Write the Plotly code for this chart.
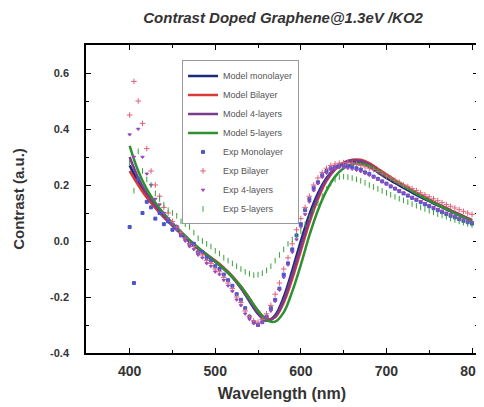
import plotly.graph_objects as go

# ---------------- data ----------------
MODEL_WL = list(range(400, 801, 10))
model_mono = [0.27, 0.21, 0.16, 0.12, 0.085, 0.055, 0.025, -0.003, -0.028, -0.05,
              -0.073, -0.098, -0.128, -0.168, -0.215, -0.26, -0.285, -0.265, -0.2, -0.105,
              0.0, 0.095, 0.17, 0.225, 0.26, 0.278, 0.284, 0.28, 0.265, 0.245,
              0.225, 0.207, 0.19, 0.173, 0.157, 0.142, 0.127, 0.113, 0.099, 0.086, 0.072]
model_bi = [0.25, 0.2, 0.155, 0.118, 0.085, 0.056, 0.028, 0.0, -0.025, -0.048,
            -0.07, -0.095, -0.125, -0.162, -0.205, -0.25, -0.278, -0.272, -0.22, -0.135,
            -0.035, 0.065, 0.15, 0.215, 0.255, 0.278, 0.29, 0.29, 0.278, 0.258,
            0.238, 0.218, 0.2, 0.182, 0.165, 0.149, 0.133, 0.118, 0.103, 0.089, 0.075]
model_4 = [0.30, 0.225, 0.17, 0.127, 0.09, 0.058, 0.028, 0.0, -0.026, -0.05,
           -0.074, -0.1, -0.13, -0.168, -0.212, -0.258, -0.285, -0.27, -0.212, -0.12,
           -0.02, 0.078, 0.16, 0.22, 0.258, 0.28, 0.288, 0.286, 0.273, 0.253,
           0.233, 0.214, 0.196, 0.179, 0.162, 0.146, 0.131, 0.116, 0.101, 0.087, 0.073]
model_5 = [0.34, 0.25, 0.185, 0.137, 0.098, 0.064, 0.033, 0.004, -0.023, -0.048,
           -0.073, -0.099, -0.128, -0.163, -0.205, -0.248, -0.282, -0.288, -0.255, -0.18,
           -0.085, 0.02, 0.11, 0.18, 0.23, 0.26, 0.274, 0.276, 0.268, 0.252,
           0.233, 0.214, 0.196, 0.178, 0.161, 0.145, 0.129, 0.114, 0.099, 0.085, 0.07]

EXP_WL = list(range(400, 801, 5))
exp_mono = [0.05, -0.15, 0.22, 0.1, 0.14, 0.12, 0.08, 0.1, 0.06, 0.07,
            0.04, 0.05, 0.02, 0.01, -0.01, -0.01, -0.04, -0.04, -0.06, -0.07,
            -0.09, -0.1, -0.12, -0.14, -0.16, -0.19, -0.21, -0.24, -0.27, -0.29,
            -0.3, -0.29, -0.27, -0.24, -0.21, -0.17, -0.12, -0.08, -0.03, 0.02,
            0.06, 0.11, 0.15, 0.19, 0.21, 0.235, 0.25, 0.26, 0.265, 0.27,
            0.27, 0.268, 0.265, 0.26, 0.255, 0.245, 0.24, 0.23, 0.222, 0.213,
            0.205, 0.195, 0.187, 0.178, 0.17, 0.162, 0.154, 0.147, 0.139, 0.131,
            0.124, 0.117, 0.11, 0.103, 0.096, 0.09, 0.084, 0.078, 0.072, 0.067, 0.062]
exp_bi = [0.45, 0.57, 0.5, 0.42, 0.33, 0.25, 0.2, 0.16, 0.12, 0.1,
          0.07, 0.05, 0.03, 0.01, -0.01, -0.02, -0.04, -0.05, -0.07, -0.08,
          -0.1, -0.11, -0.13, -0.15, -0.17, -0.2, -0.22, -0.25, -0.27, -0.285,
          -0.29, -0.28, -0.26, -0.23, -0.19, -0.15, -0.1, -0.06, -0.01, 0.04,
          0.08, 0.12, 0.16, 0.2, 0.225, 0.245, 0.26, 0.27, 0.275, 0.278,
          0.28, 0.28, 0.278, 0.275, 0.27, 0.265, 0.26, 0.255, 0.248, 0.24,
          0.232, 0.225, 0.217, 0.21, 0.2, 0.195, 0.187, 0.18, 0.172, 0.165,
          0.158, 0.151, 0.144, 0.137, 0.13, 0.124, 0.118, 0.112, 0.106, 0.1, 0.095]
exp_4 = [0.38, 0.3, 0.4, 0.3, 0.24, 0.2, 0.15, 0.13, 0.1, 0.08,
         0.06, 0.04, 0.02, 0.0, -0.02, -0.03, -0.05, -0.06, -0.08, -0.09,
         -0.11, -0.12, -0.14, -0.16, -0.18, -0.21, -0.23, -0.26, -0.28, -0.295,
         -0.3, -0.29, -0.275, -0.25, -0.215, -0.175, -0.13, -0.085, -0.04, 0.005,
         0.05, 0.095, 0.14, 0.18, 0.205, 0.228, 0.243, 0.253, 0.258, 0.262,
         0.262, 0.26, 0.257, 0.253, 0.248, 0.242, 0.235, 0.228, 0.22, 0.212,
         0.204, 0.196, 0.188, 0.18, 0.172, 0.164, 0.157, 0.15, 0.142, 0.135,
         0.128, 0.121, 0.114, 0.108, 0.101, 0.095, 0.089, 0.083, 0.077, 0.072, 0.067]
exp_5 = [0.28, 0.18, 0.32, 0.25, 0.22, 0.2, 0.17, 0.15, 0.13, 0.11,
         0.1, 0.09, 0.07, 0.06, 0.05, 0.03, 0.01, 0.0, -0.01, -0.02,
         -0.035, -0.045, -0.06, -0.07, -0.08, -0.09, -0.1, -0.11, -0.117, -0.122,
         -0.12, -0.115, -0.105, -0.09, -0.07, -0.05, -0.03, -0.01, 0.005, 0.02,
         0.035, 0.06, 0.085, 0.11, 0.135, 0.16, 0.185, 0.205, 0.22, 0.228,
         0.23, 0.228, 0.225, 0.22, 0.215, 0.208, 0.2, 0.193, 0.186, 0.179,
         0.172, 0.165, 0.158, 0.151, 0.145, 0.139, 0.132, 0.126, 0.12, 0.114,
         0.108, 0.102, 0.096, 0.091, 0.086, 0.08, 0.075, 0.07, 0.066, 0.061, 0.057]

X_TICKS = [400, 500, 600, 700, 800]
Y_TICKS = [-0.4, -0.2, 0.0, 0.2, 0.4, 0.6]
Y_TICK_TEXT = ["-0.4", "-0.2", "0.0", "0.2", "0.4", "0.6"]

FONT = "Arial, Liberation Sans, sans-serif"

fig = go.Figure()

exp_styles = [
    ("Exp Monolayer", exp_mono, "#4a55c8", "square", 3),
    ("Exp Bilayer", exp_bi, "#e0607a", "cross-thin-open", 4),
    ("Exp 4-layers", exp_4, "#9a48c0", "triangle-down", 3),
    ("Exp 5-layers", exp_5, "#38a038", "line-ns-open", 4),
]
model_styles = [
    ("Model monolayer", model_mono, "#1c2a78"),
    ("Model Bilayer", model_bi, "#d83838"),
    ("Model 4-layers", model_4, "#7a3c8c"),
    ("Model 5-layers", model_5, "#2e9030"),
]

for name, ys, col in model_styles:
    fig.add_trace(go.Scatter(x=MODEL_WL, y=ys, mode="lines", name=name,
                             line=dict(color=col, width=2.5, shape="spline"),
                             legendrank=1))
for name, ys, col, sym, sz in exp_styles:
    fig.add_trace(go.Scatter(x=EXP_WL, y=ys, mode="markers", name=name,
                             marker=dict(color=col, symbol=sym, size=sz,
                                         line=dict(color=col, width=1)),
                             legendrank=2))

axis_common = dict(showline=True, linecolor="black", linewidth=1.5, mirror="ticks",
                   ticks="inside", ticklen=5, tickwidth=1.2, tickcolor="black",
                   showgrid=False, zeroline=False, automargin=False)

fig.update_xaxes(range=[349, 807], tickvals=X_TICKS, ticklabelstandoff=4,
                 tickfont=dict(family=FONT, size=14, color="#333333", weight="bold"),
                 minor=dict(ticks="inside", ticklen=3, dtick=50, tick0=400, tickcolor="black"),
                 title=dict(text="Wavelength (nm)", standoff=10,
                            font=dict(family=FONT, size=16, color="#333333", weight="bold")),
                 **axis_common)
fig.update_yaxes(range=[-0.4, 0.7], tickvals=Y_TICKS, ticktext=Y_TICK_TEXT, ticklabelstandoff=13,
                 tickfont=dict(family=FONT, size=11, color="#333333", weight="bold"),
                 minor=dict(ticks="inside", ticklen=3, dtick=0.1, tick0=0, tickcolor="black"),
                 title=dict(text="Contrast (a.u.)", standoff=22,
                            font=dict(family=FONT, size=15, color="#333333", weight="bold")),
                 **axis_common)

fig.update_layout(
    width=476, height=399,
    margin=dict(l=78, r=6, t=37, b=54, autoexpand=False),
    paper_bgcolor="white", plot_bgcolor="white",
    title=dict(text="<b><i>Contrast Doped Graphene@1.3eV /KO2</i></b>",
               x=0.578, xanchor="center", y=0.975, yanchor="middle",
               font=dict(family=FONT, size=15, color="#333333")),
    legend=dict(x=0.245, y=0.95, xanchor="left", yanchor="top",
                bgcolor="white", bordercolor="#999999", borderwidth=1,
                font=dict(family=FONT, size=9, color="#555555"),
                itemwidth=30, tracegroupgap=0),
    showlegend=True,
)

fig.write_html("out.html")
